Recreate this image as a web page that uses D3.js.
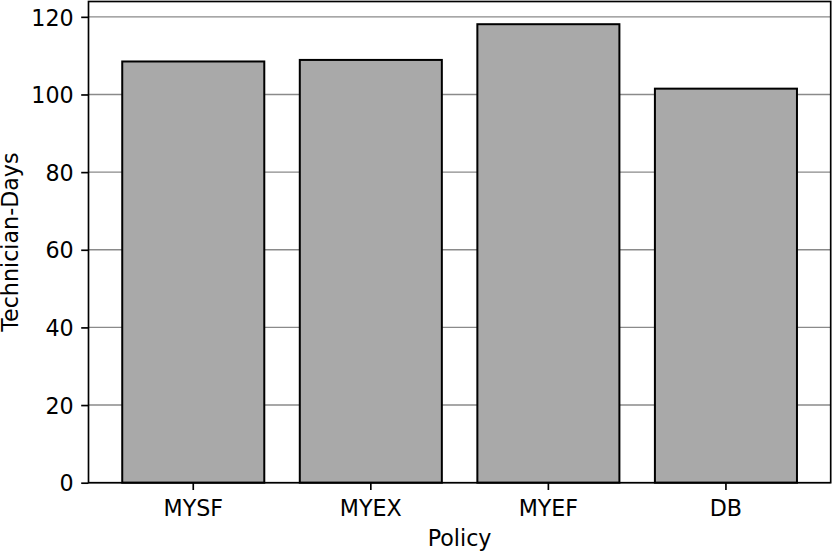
<!DOCTYPE html>
<html>
<head>
<meta charset="utf-8">
<script src="https://cdn.jsdelivr.net/npm/d3@7"></script>
<style>
body { margin: 0; background: #fff; }
svg { display: block; font-family: "DejaVu Sans", sans-serif; }
</style>
</head>
<body>
<svg id="chart" width="832" height="551"></svg>
<script>
const categories = ["MYSF", "MYEX", "MYEF", "DB"];
const values = [108.5, 108.9, 118.1, 101.5];
const yTicks = [0, 20, 40, 60, 80, 100, 120];
const xLabel = "Policy";
const yLabel = "Technician-Days";

const svg = d3.select("#chart");
const L = 88.5, R = 830.7, T = 1.5, B = 482.7;
const fs = 22.2;

const x = d3.scaleBand().domain(categories).range([L, R]).paddingInner(0.2).paddingOuter(0.19);
const y = d3.scaleLinear().domain([0, 123.95]).range([B, T]);

// grid
svg.append("g").selectAll("line").data(yTicks).join("line")
  .attr("x1", L).attr("x2", R)
  .attr("y1", d => y(d)).attr("y2", d => y(d))
  .attr("stroke", "#8a8a8a").attr("stroke-width", 1.4);

// bars
svg.append("g").selectAll("rect").data(categories).join("rect")
  .attr("x", d => x(d)).attr("width", x.bandwidth())
  .attr("y", (d, i) => y(values[i])).attr("height", (d, i) => B - y(values[i]))
  .attr("fill", "#a9a9a9").attr("stroke", "#000").attr("stroke-width", 2);

// axes
const yAxis = d3.axisLeft(y).tickValues(yTicks).tickSize(7.3).tickPadding(7.5);
const gy = svg.append("g").attr("transform", `translate(${L},0)`).call(yAxis);
const xAxis = d3.axisBottom(x).tickSize(7.3);
const gx = svg.append("g").attr("transform", `translate(0,${B})`).call(xAxis);
[gx, gy].forEach(g => {
  g.select(".domain").remove();
  g.selectAll(".tick line").attr("stroke", "#000").attr("stroke-width", 1.67);
  g.selectAll(".tick text").attr("font-size", fs).attr("fill", "#000")
    .attr("font-family", "DejaVu Sans, sans-serif");
});
gy.selectAll(".tick text").attr("dy", "0.37em");
gx.selectAll(".tick text").attr("y", 33).attr("dy", 0);

// frame
svg.append("rect").attr("x", L).attr("y", T).attr("width", R - L).attr("height", B - T)
  .attr("fill", "none").attr("stroke", "#000").attr("stroke-width", 1.67);

// labels
svg.append("text").attr("x", (L + R) / 2).attr("y", 545.7)
  .attr("text-anchor", "middle").attr("font-size", fs).attr("fill", "#000").text(xLabel);
svg.append("text").attr("transform", `translate(17.5,${(T + B) / 2}) rotate(-90)`)
  .attr("text-anchor", "middle").attr("font-size", fs).attr("fill", "#000").text(yLabel);
</script>
</body>
</html>
